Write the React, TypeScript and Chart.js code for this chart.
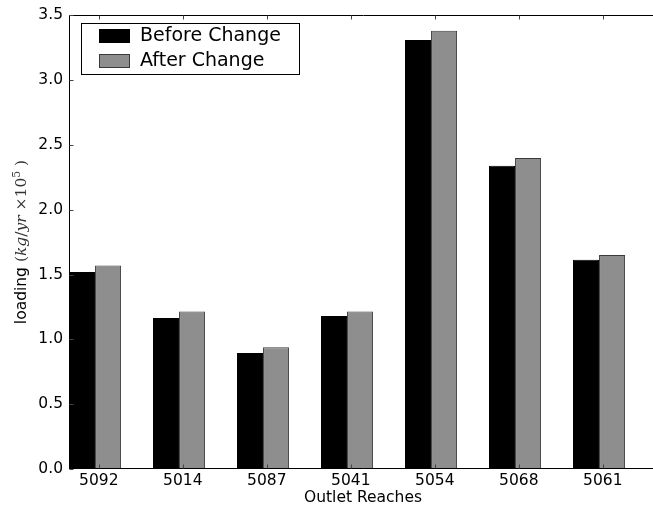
import React, { useEffect, useRef } from "react";
import { Chart, registerables } from "chart.js";

Chart.register(...registerables);

const categories = ["5092", "5014", "5087", "5041", "5054", "5068", "5061"];
const beforeChange = [1.52, 1.165, 0.895, 1.18, 3.31, 2.34, 1.615];
const afterChange = [1.57, 1.215, 0.94, 1.215, 3.38, 2.4, 1.65];
const yTicks = [0, 0.5, 1.0, 1.5, 2.0, 2.5, 3.0, 3.5];
const seriesLabels = ["Before Change", "After Change"];
const seriesColors = ["#000000", "#8e8e8e"];
const seriesEdges = ["#000000", "#3a3a3a"];
const xTitle = "Outlet Reaches";

const SANS = "'DejaVu Sans', sans-serif";
const SERIF = "'DejaVu Serif', serif";
const TICK_FONT = 15.5;
const TICK_SHIFT = 0.045;

const overlayPlugin = {
  id: "mplOverlay",
  afterDraw(chart: any) {
    const ctx: CanvasRenderingContext2D = chart.ctx;
    const { left, right, top, bottom } = chart.chartArea;
    const xs = chart.scales.x;
    const ys = chart.scales.y;
    ctx.save();
    // spines
    ctx.strokeStyle = "#000";
    ctx.lineWidth = 1;
    const L = Math.round(left) + 0.5;
    const R = Math.round(right) + 0.5;
    const T = Math.round(top) + 0.5;
    const B = Math.round(bottom) - 0.5;
    ctx.beginPath();
    ctx.moveTo(L, T);
    ctx.lineTo(R, T);
    ctx.lineTo(R, B);
    ctx.lineTo(L, B);
    ctx.closePath();
    ctx.stroke();
    // inward ticks
    ctx.strokeStyle = "#444";
    ctx.beginPath();
    yTicks.forEach((v) => {
      const y = Math.round(ys.getPixelForValue(v)) + 0.5;
      ctx.moveTo(L, y);
      ctx.lineTo(L + 4, y);
      ctx.moveTo(R, y);
      ctx.lineTo(R - 4, y);
    });
    categories.forEach((_, i) => {
      const x = Math.round(xs.getPixelForValue(i + TICK_SHIFT)) + 0.5;
      ctx.moveTo(x, B);
      ctx.lineTo(x, B - 4);
      ctx.moveTo(x, T);
      ctx.lineTo(x, T + 4);
    });
    ctx.stroke();

    // x title
    ctx.fillStyle = "#000";
    ctx.font = `${TICK_FONT}px ${SANS}`;
    ctx.textAlign = "center";
    ctx.textBaseline = "middle";
    ctx.fillText(xTitle, (left + right) / 2, 498);

    // y title (rotated, mixed fonts)
    const pieces = [
      { t: "loading ", f: `${TICK_FONT}px ${SANS}`, dy: 0, c: "#000" },
      { t: "(", f: `${TICK_FONT}px ${SERIF}`, dy: 0, c: "#333" },
      { t: "kg", f: `italic ${TICK_FONT}px ${SERIF}`, dy: 0, c: "#333" },
      { t: "/", f: `${TICK_FONT}px ${SERIF}`, dy: 0, c: "#333" },
      { t: "yr", f: `italic ${TICK_FONT}px ${SERIF}`, dy: 0, c: "#333" },
      { t: " \u00d710", f: `${TICK_FONT}px ${SERIF}`, dy: 0, c: "#333" },
      { t: "5", f: `${TICK_FONT * 0.7}px ${SERIF}`, dy: -6, c: "#333" },
      { t: " )", f: `${TICK_FONT}px ${SERIF}`, dy: 0, c: "#333" },
    ];
    let total = 0;
    const widths = pieces.map((p) => {
      ctx.font = p.f;
      const w = ctx.measureText(p.t).width;
      total += w;
      return w;
    });
    ctx.translate(25.5, 242);
    ctx.rotate(-Math.PI / 2);
    ctx.textAlign = "left";
    ctx.textBaseline = "alphabetic";
    let cx = -total / 2;
    pieces.forEach((p, i) => {
      ctx.font = p.f;
      ctx.fillStyle = p.c;
      ctx.fillText(p.t, cx, p.dy);
      cx += widths[i];
    });
    ctx.setTransform(1, 0, 0, 1, 0, 0);

    // legend
    const lx = 81.5, ly = 23.5, lw = 218, lh = 51;
    ctx.fillStyle = "#fff";
    ctx.fillRect(lx, ly, lw, lh);
    ctx.strokeStyle = "#000";
    ctx.lineWidth = 1;
    ctx.strokeRect(lx, ly, lw, lh);
    chart.data.datasets.forEach((ds: any, i: number) => {
      const py = 29.5 + i * 25;
      ctx.fillStyle = ds.backgroundColor;
      ctx.fillRect(99.5, py, 30, 13);
      ctx.strokeStyle = ds.borderColor;
      ctx.strokeRect(99.5, py, 30, 13);
      ctx.fillStyle = "#000";
      ctx.font = `19px ${SANS}`;
      ctx.textAlign = "left";
      ctx.textBaseline = "middle";
      ctx.fillText(ds.label, 140, py + 7);
    });
    ctx.restore();
  },
};

export default function App() {
  const ref = useRef<HTMLCanvasElement | null>(null);
  useEffect(() => {
    if (!ref.current) return;
    const values = [beforeChange, afterChange];
    const chart = new Chart(ref.current, {
      type: "bar",
      data: {
        datasets: values.map((vals, k) => ({
          label: seriesLabels[k],
          data: categories.map((_, i) => ({ x: i, y: vals[i] })),
          backgroundColor: seriesColors[k],
          borderColor: seriesEdges[k],
          borderWidth: 1,
          categoryPercentage: 0.62,
          barPercentage: 1.0,
        })),
      },
      options: {
        responsive: false,
        animation: false,
        devicePixelRatio: 1,
        layout: { padding: { left: 0, top: 13, right: 13, bottom: 0 } },
        plugins: { legend: { display: false }, tooltip: { enabled: false } },
        scales: {
          x: {
            type: "linear",
            offset: false,
            min: -0.31,
            max: 6.69,
            grid: { display: false, drawTicks: false, offset: false },
            border: { display: false },
            afterBuildTicks: (s: any) => {
              s.ticks = categories.map((_, i) => ({ value: i + TICK_SHIFT }));
            },
            afterFit: (s: any) => {
              s.height = 43;
            },
            ticks: {
              autoSkip: false,
              maxRotation: 0,
              minRotation: 0,
              padding: 3,
              color: "#000",
              font: { family: SANS, size: TICK_FONT },
              callback: (_v: any, idx: number) => categories[idx],
            },
          },
          y: {
            type: "linear",
            min: 0,
            max: 3.5,
            grid: { display: false, drawTicks: false },
            border: { display: false },
            afterBuildTicks: (s: any) => {
              s.ticks = yTicks.map((v) => ({ value: v }));
            },
            afterFit: (s: any) => {
              s.width = 69;
            },
            ticks: {
              padding: 6,
              color: "#000",
              font: { family: SANS, size: TICK_FONT },
              callback: (v: any) => Number(v).toFixed(1),
            },
          },
        },
      },
      plugins: [overlayPlugin],
    } as any);
    return () => chart.destroy();
  }, []);
  return (
    <div
      style={{
        position: "fixed",
        left: 0,
        top: 0,
        width: 653,
        height: 512,
        overflow: "hidden",
        background: "#fff",
      }}
    >
      <canvas ref={ref} width={670} height={512} style={{ display: "block", width: 670, height: 512 }} />
    </div>
  );
}
